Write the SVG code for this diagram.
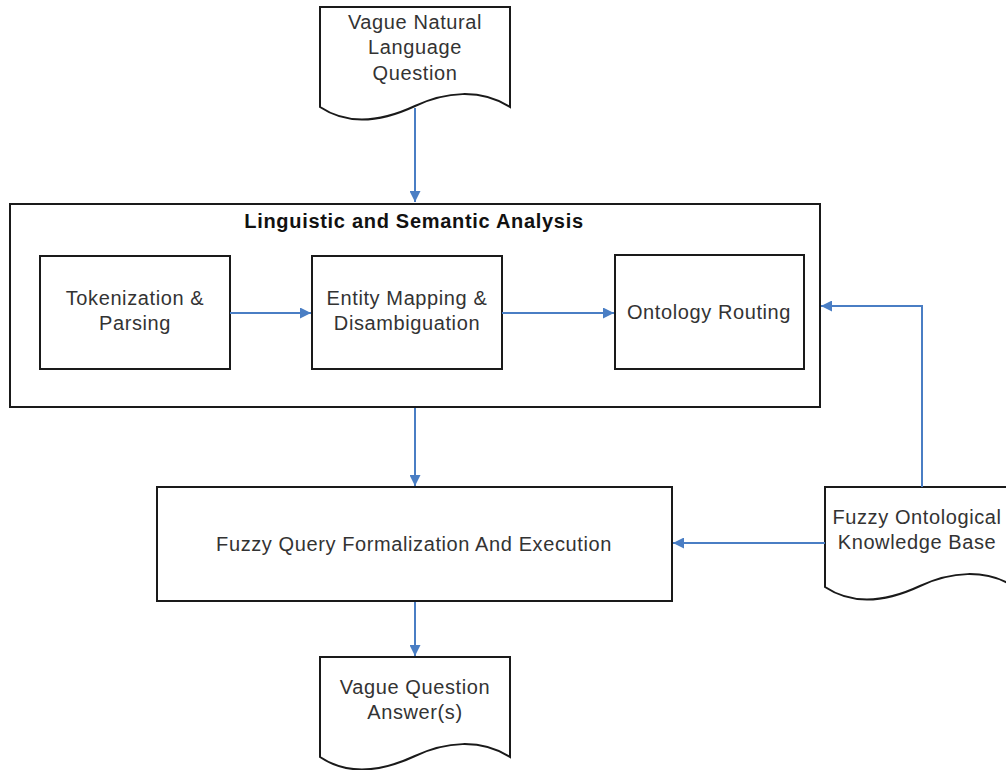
<svg xmlns="http://www.w3.org/2000/svg" width="1006" height="770" viewBox="0 0 1006 770">
<style>
.box{fill:#fff;stroke:#1a1a1a;stroke-width:2}
.t{font-family:"Liberation Sans",Arial,sans-serif;font-size:20px;letter-spacing:0.6px;fill:#333;text-anchor:middle;dominant-baseline:central}
.title{font-family:"Liberation Sans",Arial,sans-serif;font-size:20px;letter-spacing:0.7px;font-weight:bold;fill:#111;text-anchor:middle;dominant-baseline:central}
.c{fill:none;stroke:#4a7ec4;stroke-width:2;marker-end:url(#ah)}
</style>
<defs>
<marker id="ah" viewBox="0 0 10 10" refX="10" refY="5" markerWidth="11" markerHeight="11" markerUnits="userSpaceOnUse" orient="auto">
<path d="M0,0 L10,5 L0,10 Z" fill="#4a7ec4"/>
</marker>
</defs>
<rect width="1006" height="770" fill="#fff"/>
<g id="analysis">
<rect class="box" x="10" y="204" width="810" height="203"/>
<text class="title" x="414" y="221">Linguistic and Semantic Analysis</text>
</g>
<g id="question">
<path class="box" d="M320,7 H510 V107 C480,88 445,92 415,106 C385,120 350,127 320,107 Z"/>
<text class="t" x="415" y="22">Vague Natural</text>
<text class="t" x="415" y="47">Language</text>
<text class="t" x="415" y="73">Question</text>
</g>
<g id="tokenization">
<rect class="box" x="40" y="256" width="190" height="113"/>
<text class="t" x="135" y="298">Tokenization &amp;</text>
<text class="t" x="135" y="323">Parsing</text>
</g>
<g id="entity">
<rect class="box" x="312" y="256" width="190" height="113"/>
<text class="t" x="407" y="298">Entity Mapping &amp;</text>
<text class="t" x="407" y="323">Disambiguation</text>
</g>
<g id="ontology">
<rect class="box" x="615" y="255" width="189" height="114"/>
<text class="t" x="709" y="312">Ontology Routing</text>
</g>
<g id="fuzzyquery">
<rect class="box" x="157" y="487" width="515" height="114"/>
<text class="t" x="414" y="544">Fuzzy Query Formalization And Execution</text>
</g>
<g id="kb">
<path class="box" d="M825,487 H1015 V587 C985,568 950,572 920,586 C890,600 855,607 825,587 Z"/>
<text class="t" x="917" y="517">Fuzzy Ontological</text>
<text class="t" x="917" y="542">Knowledge Base</text>
</g>
<g id="answers">
<path class="box" d="M320,657 H510 V757 C480,738 445,742 415,756 C385,770 350,777 320,757 Z"/>
<text class="t" x="415" y="687">Vague Question</text>
<text class="t" x="415" y="712">Answer(s)</text>
</g>
<g id="connectors">
<path class="c" d="M415,108 V202"/>
<path class="c" d="M230,313 H311"/>
<path class="c" d="M502,313 H614"/>
<path class="c" d="M922,487 V306 H821"/>
<path class="c" d="M415,408 V486"/>
<path class="c" d="M825,543 H673"/>
<path class="c" d="M415,602 V656"/>
</g>
</svg>
